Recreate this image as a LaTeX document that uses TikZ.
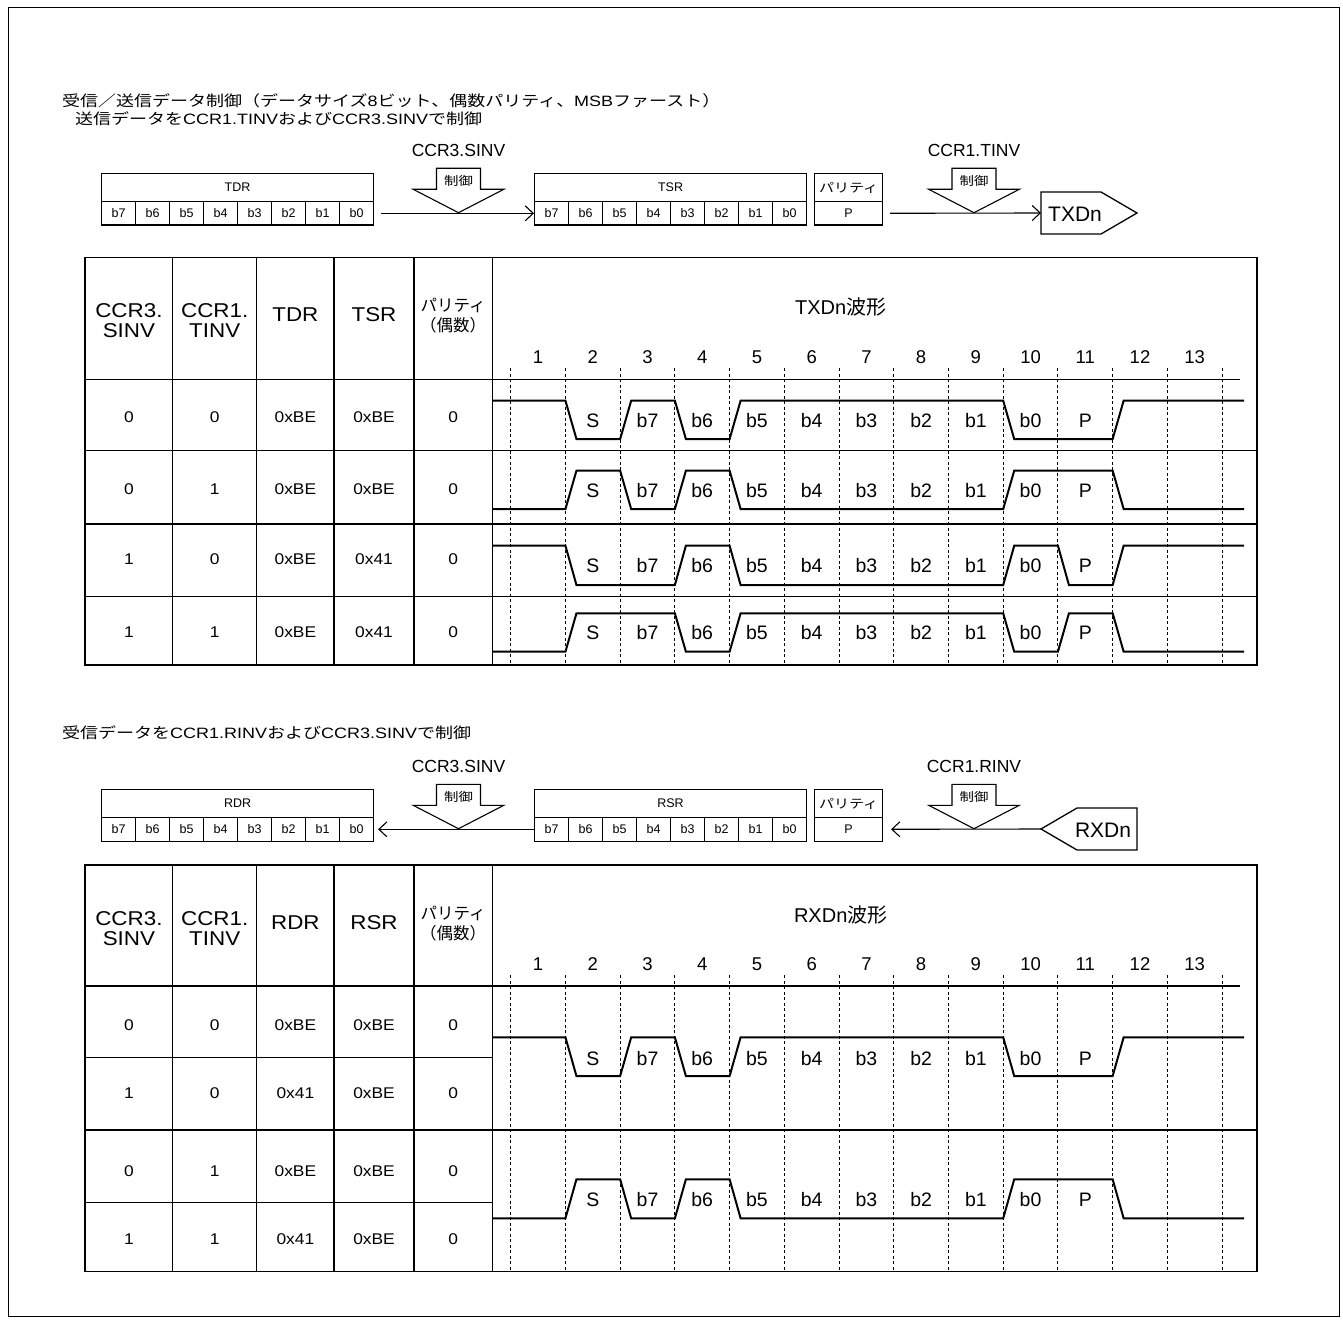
\documentclass[tikz,border=0pt]{standalone}
\usepackage{fontspec}
\setmainfont{Liberation Sans}
\newfontfamily\wide{Liberation Sans}[FakeStretch=1.12]
\newfontfamily\lw{Liberation Sans}[FakeStretch=1.2]
\newfontfamily\jp{Noto Sans CJK JP}
\newfontfamily\jpw{Noto Sans CJK JP}[FakeStretch=1.2]
\usetikzlibrary{arrows.meta}
\newcommand\J[1]{{\jp #1}}
\newcommand\JW[1]{{\jpw #1}}
\newcommand\fs[1]{\fontsize{#1}{#1}\selectfont}
\newcommand\gx[1]{510.72+54.72*(#1)}
% waveform: #1 start level y, #2 other level y, #3..#8 transition grid indices
\newcommand\wv[8]{\draw[wave] (492,#1) -- ({\gx{#3}},#1) -- ({\gx{#3}+11},#2) -- ({\gx{#4}},#2) -- ({\gx{#4}+11},#1) -- ({\gx{#5}},#1) -- ({\gx{#5}+11},#2) -- ({\gx{#6}},#2) -- ({\gx{#6}+11},#1) -- ({\gx{#7}},#1) -- ({\gx{#7}+11},#2) -- ({\gx{#8}},#2) -- ({\gx{#8}+11},#1) -- (1244,#1);}
\tikzset{
  tbl/.style={line width=1.3pt},
  gridl/.style={line width=0.9pt, dash pattern=on 3pt off 2.5pt},
  wave/.style={line width=2pt, line join=miter},
  reg/.style={draw, line width=1.1pt, inner sep=0pt, anchor=north west, font=\fs{12.5}},
  arr/.style={line width=1.1pt, -{Straight Barb[length=8pt,width=15pt]}},
  ctl/.style={draw, line width=1.1pt, fill=white},
  ctltext/.style={font=\jpw\fs{12}},
  lab/.style={font=\fs{17.5}},
  ttl/.style={font=\lw\fs{15}, anchor=west, inner sep=0pt},
  hd/.style={font=\wide\fontsize{20}{20}\selectfont, align=center},
  hdj/.style={font=\jp\fontsize{16.5}{20}\selectfont, align=center},
  cell/.style={font=\wide\fs{15.5}},
  wl/.style={font=\fs{19.5}},
  num/.style={font=\fs{18.5}},
  sig/.style={line width=1.3pt},
}
\begin{document}
\begin{tikzpicture}[x=1pt,y=-1pt]
\useasboundingbox (0,0) rectangle (1343,1324);
\draw[line width=1pt] (8,8) rectangle (1339,1316);

% titles
\node[ttl] (title) at (62,101) {\JW{受信／送信データ制御（データサイズ}8\JW{ビット、偶数パリティ、}MSB\JW{ファースト）}};
\node[ttl] (subtx) at (75,119) {\JW{送信データを}CCR1.TINV\JW{および}CCR3.SINV\JW{で制御}};

% ===== TX registers =====
\node[reg, minimum width=272pt, minimum height=28pt] (tdr) at (101,173) {TDR};
\foreach \b [count=\i from 0] in {7,6,5,4,3,2,1,0}
  \node[reg, minimum width=34pt, minimum height=23.5pt] (tdr\b) at ({101+34*\i},201) {b\b};
\node[reg, minimum width=272pt, minimum height=28pt] (tsr) at (534,173) {TSR};
\foreach \b [count=\i from 0] in {7,6,5,4,3,2,1,0}
  \node[reg, minimum width=34pt, minimum height=23.5pt] (tsr\b) at ({534+34*\i},201) {b\b};
\node[reg, minimum width=68pt, minimum height=28pt, font=\jpw\fs{12.5}] (tpar) at (814,173) {パリティ};
\node[reg, minimum width=68pt, minimum height=23.5pt] (tp) at (814,201) {P};

\node[lab] (lsinv1) at (458.5,150) {CCR3.SINV};
\draw[ctl] (436.5,168.3) -- (480.5,168.3) -- (480.5,189.3) -- (503.8,189.3) -- (458.5,212.7) -- (413.2,189.3) -- (436.5,189.3) -- cycle;
\node[ctltext] (ctl1) at (458.5,181) {制御};
\node[lab] (ltinv) at (974,150) {CCR1.TINV};
\draw[ctl] (952,168.3) -- (996,168.3) -- (996,189.3) -- (1019.3,189.3) -- (974,212.7) -- (928.7,189.3) -- (952,189.3) -- cycle;
\node[ctltext] (ctl2) at (974,181) {制御};

\draw[sig] (1041,192) -- (1101,192) -- (1137,213) -- (1101,234) -- (1041,234) -- cycle;
\coordinate (txdnL) at (1041,213);
\node[font=\fs{21}] (txdn) at (1075,214) {TXDn};

\draw[arr, shorten <=7pt] (tdr0.east) -- (tsr7.west);
\draw[arr, shorten <=7pt] (tp.east) -- (txdnL);

% ===== TX table =====
\foreach \i in {0,...,13} \draw[gridl] ({\gx{\i}},368) -- ({\gx{\i}},665);
\draw[tbl] (85,257.5) rectangle (1257,665);
\foreach \x in {172.7,256.7,334,414,492.3} \draw[tbl] (\x,257.5) -- (\x,665);
\draw[tbl] (85,379.5) -- (1240,379.5);
\foreach \y in {450.5,524,596.7} \draw[tbl] (85,\y) -- (1257,\y);

\node[hd] (th1) at (128.9,321) {CCR3.\\SINV};
\node[hd] (th2) at (214.7,321) {CCR1.\\TINV};
\node[hd] (th3) at (295.4,315) {TDR};
\node[hd] (th4) at (374,315) {TSR};
\node[hdj] (th5) at (453.2,316) {パリティ\\（偶数）};
\node[font=\fs{20}] (thw) at (840.7,307) {TXDn\J{波形}};
\foreach \n in {1,...,13} \node[num] (tn\n) at ({\gx{\n-1}+27.36},357) {\n};

\foreach \y/\a/\b/\c/\d/\e [count=\r] in {417/0/0/0xBE/0xBE/0, 489/0/1/0xBE/0xBE/0, 559/1/0/0xBE/0x41/0, 632/1/1/0xBE/0x41/0} {
  \node[cell] (tc\r-1) at (128.9,\y) {\a};
  \node[cell] (tc\r-2) at (214.7,\y) {\b};
  \node[cell] (tc\r-3) at (295.4,\y) {\c};
  \node[cell] (tc\r-4) at (374,\y) {\d};
  \node[cell] (tc\r-5) at (453.2,\y) {\e};
}

\wv{400.7}{439}{1}{2}{3}{4}{9}{11}
\wv{509}{470.7}{1}{2}{3}{4}{9}{11}
\wv{545.7}{585}{1}{3}{4}{9}{10}{11}
\wv{651.7}{613.3}{1}{3}{4}{9}{10}{11}
\foreach \y [count=\r] in {421,491,566,633}
  \foreach \t [count=\k from 1] in {S,b7,b6,b5,b4,b3,b2,b1,b0,P}
    \node[wl] (tw\r-\k) at ({\gx{\k}+27.36},\y) {\t};

% ===== RX =====
\node[ttl] (subrx) at (62,733) {\JW{受信データを}CCR1.RINV\JW{および}CCR3.SINV\JW{で制御}};

\node[reg, minimum width=272pt, minimum height=28pt] (rdr) at (101,789) {RDR};
\foreach \b [count=\i from 0] in {7,6,5,4,3,2,1,0}
  \node[reg, minimum width=34pt, minimum height=23.5pt] (rdr\b) at ({101+34*\i},817) {b\b};
\node[reg, minimum width=272pt, minimum height=28pt] (rsr) at (534,789) {RSR};
\foreach \b [count=\i from 0] in {7,6,5,4,3,2,1,0}
  \node[reg, minimum width=34pt, minimum height=23.5pt] (rsr\b) at ({534+34*\i},817) {b\b};
\node[reg, minimum width=68pt, minimum height=28pt, font=\jpw\fs{12.5}] (rpar) at (814,789) {パリティ};
\node[reg, minimum width=68pt, minimum height=23.5pt] (rp) at (814,817) {P};

\node[lab] (lsinv2) at (458.5,766) {CCR3.SINV};
\draw[ctl] (436.5,784.3) -- (480.5,784.3) -- (480.5,805.3) -- (503.8,805.3) -- (458.5,828.7) -- (413.2,805.3) -- (436.5,805.3) -- cycle;
\node[ctltext] (ctl3) at (458.5,797) {制御};
\node[lab] (lrinv) at (974,766) {CCR1.RINV};
\draw[ctl] (952,784.3) -- (996,784.3) -- (996,805.3) -- (1019.3,805.3) -- (974,828.7) -- (928.7,805.3) -- (952,805.3) -- cycle;
\node[ctltext] (ctl4) at (974,797) {制御};

\draw[sig] (1041,829) -- (1077,808) -- (1137,808) -- (1137,850) -- (1077,850) -- cycle;
\coordinate (rxdnL) at (1041,829);
\node[font=\fs{21}] (rxdn) at (1103,830) {RXDn};

\draw[arr, shorten >=4pt] (rsr7.west) -- (rdr0.east);
\draw[arr, shorten >=8pt] (rxdnL) -- (rp.east);

% ===== RX table =====
\foreach \i in {0,...,13} \draw[gridl] ({\gx{\i}},975) -- ({\gx{\i}},1271.7);
\draw[tbl] (85,865) rectangle (1257,1271.7);
\foreach \x in {172.7,256.7,334,414,492.3} \draw[tbl] (\x,865) -- (\x,1271.7);
\draw[tbl] (85,986) -- (1240,986);
\draw[tbl] (85,1057.3) -- (492.3,1057.3);
\draw[tbl] (85,1130) -- (1257,1130);
\draw[tbl] (85,1202.7) -- (492.3,1202.7);

\node[hd] (rh1) at (128.9,928.7) {CCR3.\\SINV};
\node[hd] (rh2) at (214.7,928.7) {CCR1.\\TINV};
\node[hd] (rh3) at (295.4,922.7) {RDR};
\node[hd] (rh4) at (374,922.7) {RSR};
\node[hdj] (rh5) at (453.2,923.7) {パリティ\\（偶数）};
\node[font=\fs{20}] (rhw) at (840.7,915) {RXDn\J{波形}};
\foreach \n in {1,...,13} \node[num] (rn\n) at ({\gx{\n-1}+27.36},964.5) {\n};

\foreach \y/\a/\b/\c/\d/\e [count=\r] in {1025/0/0/0xBE/0xBE/0, 1093.3/1/0/0x41/0xBE/0, 1170.7/0/1/0xBE/0xBE/0, 1239.3/1/1/0x41/0xBE/0} {
  \node[cell] (rc\r-1) at (128.9,\y) {\a};
  \node[cell] (rc\r-2) at (214.7,\y) {\b};
  \node[cell] (rc\r-3) at (295.4,\y) {\c};
  \node[cell] (rc\r-4) at (374,\y) {\d};
  \node[cell] (rc\r-5) at (453.2,\y) {\e};
}

\wv{1037.3}{1076}{1}{2}{3}{4}{9}{11}
\wv{1218.3}{1179.3}{1}{2}{3}{4}{9}{11}
\foreach \y [count=\r] in {1058.3,1200}
  \foreach \t [count=\k from 1] in {S,b7,b6,b5,b4,b3,b2,b1,b0,P}
    \node[wl] (rw\r-\k) at ({\gx{\k}+27.36},\y) {\t};
\end{tikzpicture}
\end{document}
